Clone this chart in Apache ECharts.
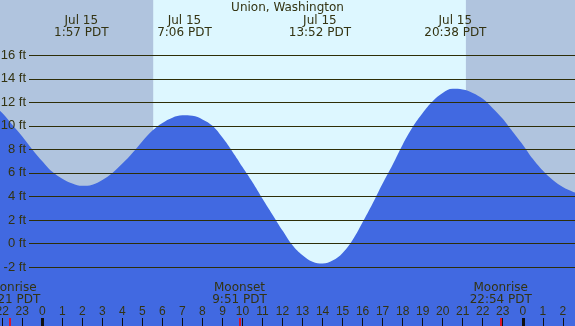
<!DOCTYPE html>
<html>
<head>
<meta charset="utf-8">
<script src="https://cdn.jsdelivr.net/npm/echarts@6/dist/echarts.min.js"></script>
<style>html,body{margin:0;padding:0;background:#ddf7ff}#c{width:575px;height:326px}</style>
</head>
<body>
<div id="c"></div>
<script>
const title = 'Union, Washington';
// tide curve: hour of Jul 15 (PDT) and height in ft
const hours = [-2.5,-2,-1.5,-1,-0.5,0,0.5,1,1.5,2,2.5,3,3.5,4,4.5,5,5.5,6,6.5,7,7.5,8,8.5,9,9.5,10,10.5,11,11.5,12,12.5,13,13.5,14,14.5,15,15.5,16,16.5,17,17.5,18,18.5,19,19.5,20,20.5,21,21.5,22,22.5,23,23.5,24,24.5,25,25.5,26,26.5,27];
const heights = [11.9,11.1,10.1,9.1,8.0,7.0,6.1,5.5,5.1,4.9,5.0,5.4,6.0,6.8,7.7,8.7,9.6,10.25,10.7,10.9,10.85,10.55,10.0,9.0,7.8,6.5,5.2,3.8,2.45,1.1,-0.15,-1.0,-1.55,-1.7,-1.45,-0.8,0.3,1.8,3.4,5.1,6.7,8.4,9.9,11.1,12.1,12.8,13.15,13.1,12.8,12.3,11.5,10.6,9.5,8.4,7.2,6.2,5.4,4.8,4.4,4.1];
const levels = [-2,0,2,4,6,8,10,12,14,16];
const hourTicks = [-2,-1,0,1,2,3,4,5,6,7,8,9,10,11,12,13,14,15,16,17,18,19,20,21,22,23,24,25,26];
const extremeTimes = [1.95, 7.1, 13.867, 20.633, 26.95];
const extremeLabels = ['Jul 15\n1:57 PDT','Jul 15\n7:06 PDT','Jul 15\n13:52 PDT','Jul 15\n20:38 PDT','Jul 16\n2:57 PDT'];
const moonTimes = [-1.65, 9.85, 22.9];
const moonLabels = ['Moonrise\n22:21 PDT','Moonset\n9:51 PDT','Moonrise\n22:54 PDT'];
const midnights = [0, 24];
const nightSpans = [[-3, 5.54], [21.16, 28]];

const X_MIN = -2.113, X_MAX = 26.61, Y_MIN = -7.015, Y_MAX = 20.7;
const TXT = '#333312', LINE = '#2e2e08';
const FONT = 'DejaVu Sans';

function pick(vals, labels, v) {
  for (let i = 0; i < vals.length; i++) if (Math.abs(vals[i] - v) < 1e-6) return labels[i];
  return '';
}

const chart = echarts.init(document.getElementById('c'), null, {renderer: 'canvas'});
const gridFull = {left: 0, right: 0, top: 0, bottom: 0, containLabel: false, outerBoundsMode: 'none'};
const baseX = {type: 'value', min: X_MIN, max: X_MAX, splitLine: {show: false},
  axisLine: {show: false, onZero: false}, z: 5};
const baseY = {type: 'value', min: Y_MIN, max: Y_MAX, show: false, splitLine: {show: false},
  axisLine: {show: false, onZero: false}};

chart.setOption({
  animation: false,
  backgroundColor: '#ddf7ff',
  title: {text: title, left: 'center', top: 0, padding: [2, 0, 0, 0],
    textStyle: {fontFamily: FONT, fontSize: 12, fontWeight: 'normal', color: TXT}},
  grid: [gridFull, gridFull, gridFull,
    {left: 29, right: 0, top: 0, bottom: 0, containLabel: false, outerBoundsMode: 'none'}],
  xAxis: [
    Object.assign({}, baseX, {gridIndex: 0, position: 'bottom',
      axisTick: {show: true, inside: true, length: 8, customValues: hourTicks, lineStyle: {color: '#111', width: 1}},
      axisLabel: {show: true, inside: true, margin: 14, verticalAlign: 'middle', customValues: hourTicks,
        fontFamily: 'Liberation Sans', fontSize: 12, color: TXT,
        formatter: v => String(((Math.round(v) % 24) + 24) % 24)}}),
    Object.assign({}, baseX, {gridIndex: 0, position: 'top',
      axisTick: {show: false},
      axisLabel: {show: true, inside: true, margin: 27, verticalAlign: 'middle', customValues: extremeTimes,
        fontFamily: FONT, fontSize: 12, lineHeight: 12, color: TXT, align: 'center',
        formatter: v => pick(extremeTimes, extremeLabels, v)}}),
    Object.assign({}, baseX, {gridIndex: 1, position: 'bottom',
      axisTick: {show: true, inside: true, length: 8, customValues: moonTimes, lineStyle: {color: '#ff0000', width: 1.6}},
      axisLabel: {show: true, inside: true, margin: 32, verticalAlign: 'middle', customValues: moonTimes,
        fontFamily: FONT, fontSize: 12, lineHeight: 12, color: TXT, align: 'center',
        formatter: v => pick(moonTimes, moonLabels, v)}}),
    Object.assign({}, baseX, {gridIndex: 2, position: 'bottom',
      axisTick: {show: true, inside: true, length: 8, customValues: midnights, lineStyle: {color: '#111', width: 3}},
      axisLabel: {show: false}}),
    Object.assign({}, baseX, {gridIndex: 3, min: 0, max: 1, show: false})
  ],
  yAxis: [
    Object.assign({}, baseY, {gridIndex: 0}),
    Object.assign({}, baseY, {gridIndex: 1}),
    Object.assign({}, baseY, {gridIndex: 2}),
    Object.assign({}, baseY, {gridIndex: 3})
  ],
  series: [
    {type: 'line', xAxisIndex: 0, yAxisIndex: 0, data: [], z: 0, silent: true,
      markArea: {silent: true, itemStyle: {color: '#b0c4de', opacity: 1},
        data: nightSpans.map(s => [{xAxis: s[0]}, {xAxis: s[1]}])}},
    {type: 'line', xAxisIndex: 0, yAxisIndex: 0, z: 2, smooth: 0.4, symbol: 'none', silent: true,
      lineStyle: {width: 0}, areaStyle: {color: '#4169e1', opacity: 1, origin: 'start'},
      data: hours.map((h, i) => [h, heights[i]])},
    {type: 'line', xAxisIndex: 4, yAxisIndex: 3, data: [], z: 4, silent: true,
      markLine: {silent: true, symbol: ['none', 'none'], animation: false,
        lineStyle: {color: LINE, width: 1, type: 'solid'},
        label: {show: true, position: 'start', distance: 3, color: TXT, fontFamily: 'Liberation Sans', fontSize: 13,
          formatter: p => p.value + ' ft'},
        data: levels.map(v => ({yAxis: v}))}}
  ]
});
</script>
</body>
</html>
